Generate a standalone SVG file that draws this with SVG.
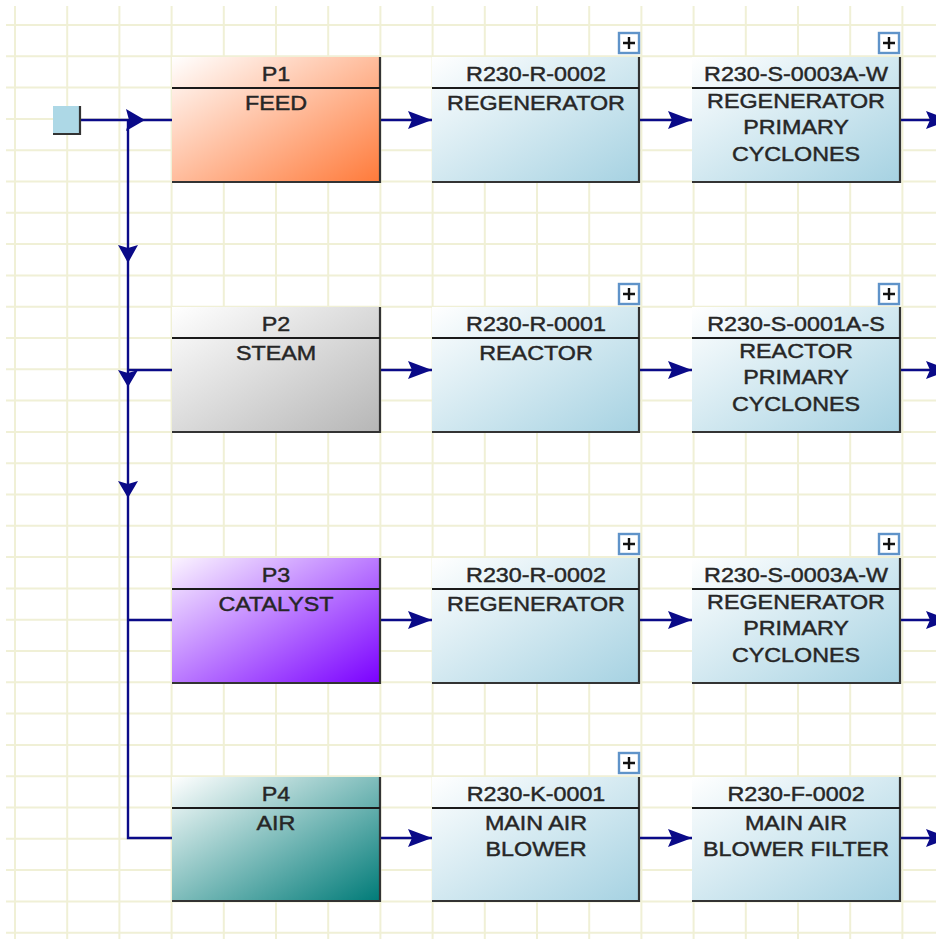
<svg xmlns="http://www.w3.org/2000/svg" width="936" height="939" viewBox="0 0 936 939">
<style>
.grid{stroke:#F0F0D6;stroke-width:2;fill:none}
.edge{stroke:#333;stroke-width:2.2;fill:none}
.div{stroke:#1a1a1a;stroke-width:2}
.t{font-family:"Liberation Sans",Arial,sans-serif;font-size:21px;fill:#262626;stroke:#262626;stroke-width:0.45;text-anchor:middle}
.wire{stroke:#0A0A88;stroke-width:2.4;fill:none}
.ah{fill:#0A0A88}
.plus rect{fill:#fff;stroke:#5F93C9;stroke-width:2.4}
.plus path{stroke:#111;stroke-width:2.4;fill:none}
</style>
<defs>
<linearGradient id="gFeed" x1="0" y1="0" x2="1" y2="1"><stop offset="0" stop-color="#FFFFFF"/><stop offset="1" stop-color="#FF7A3A"/></linearGradient>
<linearGradient id="gSteam" x1="0" y1="0" x2="1" y2="1"><stop offset="0" stop-color="#FFFFFF"/><stop offset="1" stop-color="#B6B6B6"/></linearGradient>
<linearGradient id="gCat" x1="0" y1="0" x2="1" y2="1"><stop offset="0" stop-color="#FBF4FF"/><stop offset="1" stop-color="#7A00FF"/></linearGradient>
<linearGradient id="gAir" x1="0" y1="0" x2="1" y2="1"><stop offset="0" stop-color="#FFFFFF"/><stop offset="1" stop-color="#007B78"/></linearGradient>
<linearGradient id="gEq" x1="0" y1="0" x2="1" y2="1"><stop offset="0" stop-color="#FFFFFF"/><stop offset="1" stop-color="#A6D2E2"/></linearGradient>
</defs>
<rect width="936" height="939" fill="#fff"/>
<path class="grid" d="M15 6V939M67.2 6V939M119.4 6V939M171.6 6V939M223.8 6V939M276 6V939M328.2 6V939M380.4 6V939M432.6 6V939M484.8 6V939M537 6V939M589.2 6V939M641.4 6V939M693.6 6V939M745.8 6V939M798 6V939M850.2 6V939M902.4 6V939M6 25H936M6 56.3H936M6 87.6H936M6 118.9H936M6 150.2H936M6 181.5H936M6 212.8H936M6 244.1H936M6 275.4H936M6 306.7H936M6 338H936M6 369.3H936M6 400.6H936M6 431.9H936M6 463.2H936M6 494.5H936M6 525.8H936M6 557.1H936M6 588.4H936M6 619.7H936M6 651H936M6 682.3H936M6 713.6H936M6 744.9H936M6 776.2H936M6 807.5H936M6 838.8H936M6 870.1H936M6 901.4H936M6 932.7H936"/>

<g id="connectors">
<path class="wire" d="M80 120H172M128 120V838H172M128 370H172M128 620H172"/>
<path class="wire" d="M380 120H432M639 120H692M900 120H936M380 370H432M639 370H692M900 370H936M380 620H432M639 620H692M900 620H936M380 838H432M639 838H692M900 838H936"/>
<polygon class="ah" points="145,120 126,109 129,120 126,131"/>
<polygon class="ah" points="128,263 118,245 128,248 138,245"/>
<polygon class="ah" points="128,387 118,370 128,373 138,370"/>
<polygon class="ah" points="128,498 118,481 128,484 138,481"/>
<polygon class="ah" points="432,120 408,111 412,120 408,129"/>
<polygon class="ah" points="692,120 668,111 672,120 668,129"/>
<polygon class="ah" points="950,120 926,111 930,120 926,129"/>
<polygon class="ah" points="432,370 408,361 412,370 408,379"/>
<polygon class="ah" points="692,370 668,361 672,370 668,379"/>
<polygon class="ah" points="950,370 926,361 930,370 926,379"/>
<polygon class="ah" points="432,620 408,611 412,620 408,629"/>
<polygon class="ah" points="692,620 668,611 672,620 668,629"/>
<polygon class="ah" points="950,620 926,611 930,620 926,629"/>
<polygon class="ah" points="432,838 408,829 412,838 408,847"/>
<polygon class="ah" points="692,838 668,829 672,838 668,847"/>
<polygon class="ah" points="950,838 926,829 930,838 926,847"/>
</g>

<g id="source">
<rect x="53" y="106" width="27" height="28" fill="#ADD8E6"/>
<path class="edge" d="M80 106V134H53"/>
</g>

<g id="p1">
<rect x="172" y="57" width="208" height="125" fill="url(#gFeed)"/>
<path class="edge" d="M380 57V182H172"/>
<line class="div" x1="172" y1="88" x2="380" y2="88"/>
<text class="t" transform="translate(276,81) scale(1.11,1)">P1</text>
<text class="t" transform="translate(276,110) scale(1.11,1)">FEED</text>
</g>
<g id="n1b">
<rect x="432" y="57" width="207" height="125" fill="url(#gEq)"/>
<path class="edge" d="M639 57V182H432"/>
<line class="div" x1="432" y1="88" x2="639" y2="88"/>
<text class="t" transform="translate(536,81) scale(1.11,1)">R230-R-0002</text>
<text class="t" transform="translate(536,110) scale(1.11,1)">REGENERATOR</text>
<g class="plus"><rect x="619" y="33" width="20" height="20"/><path d="M623 43H635M629 37V49"/></g>
</g>
<g id="n1c">
<rect x="692" y="57" width="208" height="125" fill="url(#gEq)"/>
<path class="edge" d="M900 57V182H692"/>
<line class="div" x1="692" y1="88" x2="900" y2="88"/>
<text class="t" transform="translate(796,81) scale(1.11,1)">R230-S-0003A-W</text>
<text class="t" transform="translate(796,108) scale(1.11,1)"><tspan x="0" y="0">REGENERATOR</tspan><tspan x="0" y="26.5">PRIMARY</tspan><tspan x="0" y="53">CYCLONES</tspan></text>
<g class="plus"><rect x="879" y="33" width="20" height="20"/><path d="M883 43H895M889 37V49"/></g>
</g>

<g id="p2">
<rect x="172" y="307" width="208" height="125" fill="url(#gSteam)"/>
<path class="edge" d="M380 307V432H172"/>
<line class="div" x1="172" y1="338" x2="380" y2="338"/>
<text class="t" transform="translate(276,331) scale(1.11,1)">P2</text>
<text class="t" transform="translate(276,360) scale(1.11,1)">STEAM</text>
</g>
<g id="n2b">
<rect x="432" y="307" width="207" height="125" fill="url(#gEq)"/>
<path class="edge" d="M639 307V432H432"/>
<line class="div" x1="432" y1="338" x2="639" y2="338"/>
<text class="t" transform="translate(536,331) scale(1.11,1)">R230-R-0001</text>
<text class="t" transform="translate(536,360) scale(1.11,1)">REACTOR</text>
<g class="plus"><rect x="619" y="284" width="20" height="20"/><path d="M623 294H635M629 288V300"/></g>
</g>
<g id="n2c">
<rect x="692" y="307" width="208" height="125" fill="url(#gEq)"/>
<path class="edge" d="M900 307V432H692"/>
<line class="div" x1="692" y1="338" x2="900" y2="338"/>
<text class="t" transform="translate(796,331) scale(1.11,1)">R230-S-0001A-S</text>
<text class="t" transform="translate(796,358) scale(1.11,1)"><tspan x="0" y="0">REACTOR</tspan><tspan x="0" y="26.5">PRIMARY</tspan><tspan x="0" y="53">CYCLONES</tspan></text>
<g class="plus"><rect x="879" y="284" width="20" height="20"/><path d="M883 294H895M889 288V300"/></g>
</g>

<g id="p3">
<rect x="172" y="558" width="208" height="125" fill="url(#gCat)"/>
<path class="edge" d="M380 558V683H172"/>
<line class="div" x1="172" y1="589" x2="380" y2="589"/>
<text class="t" transform="translate(276,582) scale(1.11,1)">P3</text>
<text class="t" transform="translate(276,611) scale(1.11,1)">CATALYST</text>
</g>
<g id="n3b">
<rect x="432" y="558" width="207" height="125" fill="url(#gEq)"/>
<path class="edge" d="M639 558V683H432"/>
<line class="div" x1="432" y1="589" x2="639" y2="589"/>
<text class="t" transform="translate(536,582) scale(1.11,1)">R230-R-0002</text>
<text class="t" transform="translate(536,611) scale(1.11,1)">REGENERATOR</text>
<g class="plus"><rect x="619" y="534" width="20" height="20"/><path d="M623 544H635M629 538V550"/></g>
</g>
<g id="n3c">
<rect x="692" y="558" width="208" height="125" fill="url(#gEq)"/>
<path class="edge" d="M900 558V683H692"/>
<line class="div" x1="692" y1="589" x2="900" y2="589"/>
<text class="t" transform="translate(796,582) scale(1.11,1)">R230-S-0003A-W</text>
<text class="t" transform="translate(796,609) scale(1.11,1)"><tspan x="0" y="0">REGENERATOR</tspan><tspan x="0" y="26.5">PRIMARY</tspan><tspan x="0" y="53">CYCLONES</tspan></text>
<g class="plus"><rect x="879" y="534" width="20" height="20"/><path d="M883 544H895M889 538V550"/></g>
</g>

<g id="p4">
<rect x="172" y="777" width="208" height="124" fill="url(#gAir)"/>
<path class="edge" d="M380 777V901H172"/>
<line class="div" x1="172" y1="808" x2="380" y2="808"/>
<text class="t" transform="translate(276,801) scale(1.11,1)">P4</text>
<text class="t" transform="translate(276,830) scale(1.11,1)">AIR</text>
</g>
<g id="n4b">
<rect x="432" y="777" width="207" height="124" fill="url(#gEq)"/>
<path class="edge" d="M639 777V901H432"/>
<line class="div" x1="432" y1="808" x2="639" y2="808"/>
<text class="t" transform="translate(536,801) scale(1.11,1)">R230-K-0001</text>
<text class="t" transform="translate(536,830) scale(1.11,1)"><tspan x="0" y="0">MAIN AIR</tspan><tspan x="0" y="26">BLOWER</tspan></text>
<g class="plus"><rect x="619" y="753" width="20" height="20"/><path d="M623 763H635M629 757V769"/></g>
</g>
<g id="n4c">
<rect x="692" y="777" width="208" height="124" fill="url(#gEq)"/>
<path class="edge" d="M900 777V901H692"/>
<line class="div" x1="692" y1="808" x2="900" y2="808"/>
<text class="t" transform="translate(796,801) scale(1.11,1)">R230-F-0002</text>
<text class="t" transform="translate(796,830) scale(1.11,1)"><tspan x="0" y="0">MAIN AIR</tspan><tspan x="0" y="26">BLOWER FILTER</tspan></text>
</g>
</svg>
